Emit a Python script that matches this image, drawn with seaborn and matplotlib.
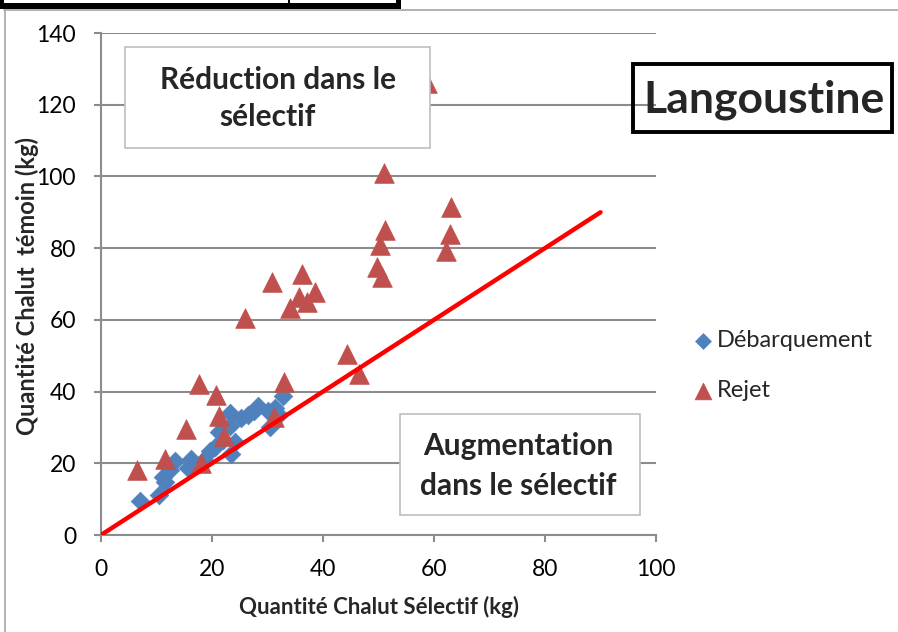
import matplotlib
matplotlib.use("Agg")
import matplotlib.pyplot as plt
import seaborn as sns
import pandas as pd
from matplotlib.patches import Rectangle
from matplotlib.lines import Line2D

# ---- data ----
deb_x = [7.0, 10.4, 11.5, 11.2, 12.4, 13.3, 15.7, 16.3, 18.5, 19.6, 20.5, 21.2, 22.0,
         23.2, 23.2, 23.5, 24.1, 25.3, 26.5, 27.5, 28.3, 30.1, 30.5, 31.4, 32.0, 32.8]
deb_y = [9.5, 11.2, 14.8, 16.3, 18.1, 20.5, 18.8, 21.2, 21.0, 23.5, 24.5, 28.8, 26.5,
         34.0, 30.5, 22.5, 26.0, 32.5, 33.5, 34.5, 36.0, 34.5, 30.0, 35.5, 33.5, 38.8]
rej_x = [6.5, 11.6, 15.4, 17.7, 18.1, 20.8, 21.3, 22.1, 25.9, 30.9, 31.2, 32.9, 34.1, 35.6,
         36.3, 37.1, 38.6, 44.4, 46.4, 49.7, 50.3, 50.7, 51.2, 51.0, 58.7, 62.2, 62.9, 63.1]
rej_y = [18.1, 21.1, 29.5, 42.1, 20.0, 39.0, 33.3, 27.6, 60.4, 70.6, 33.0, 42.8, 63.2, 66.5,
         72.8, 65.1, 67.9, 50.5, 44.9, 74.8, 81.0, 72.0, 85.0, 101.0, 126.0, 79.2, 83.9, 91.5]
ref_x = [0, 90]
ref_y = [0, 90]
x_ticks = [0, 20, 40, 60, 80, 100]
y_ticks = [0, 20, 40, 60, 80, 100, 120, 140]
series_names = ["Débarquement", "Rejet"]

sns.set_theme(style="white")
plt.rcParams["font.family"] = ["Lato", "DejaVu Sans"]

W, H = 898, 632
fig = plt.figure(figsize=(W / 100, H / 100), dpi=100)
ax = fig.add_axes([101 / W, 1 - 535 / H, (656 - 101) / W, (535 - 33) / H])

df_deb = pd.DataFrame({"x": deb_x, "y": deb_y})
df_rej = pd.DataFrame({"x": rej_x, "y": rej_y})

sns.scatterplot(data=df_deb, x="x", y="y", marker="D", s=90, color="#4F81BD",
                edgecolor="#4F81BD", linewidth=0.5, label=series_names[0], ax=ax, zorder=3)
sns.scatterplot(data=df_rej, x="x", y="y", marker="^", s=200, color="#C0504D",
                edgecolor="#C0504D", linewidth=0.5, label=series_names[1], ax=ax, zorder=4)
sns.lineplot(x=ref_x, y=ref_y, color="#FF0000", linewidth=3.2, ax=ax, zorder=5,
             solid_capstyle="round", legend=False)

ax.set_xlim(0, 100)
ax.set_ylim(0, 140)
ax.set_xticks(x_ticks)
ax.set_yticks(y_ticks)
gray = "#8c8c8c"
ax.yaxis.grid(True, color=gray, linewidth=1.5)
ax.xaxis.grid(False)
ax.set_axisbelow(True)
for s in ["top", "right"]:
    ax.spines[s].set_visible(False)
for s in ["left", "bottom"]:
    ax.spines[s].set_color(gray)
    ax.spines[s].set_linewidth(1.5)
ax.tick_params(axis="both", direction="out", length=5, width=1.5, color=gray,
               labelsize=16.5, labelcolor="black")
ax.tick_params(axis="y", pad=13, left=True)
ax.tick_params(axis="x", pad=12, bottom=True)

ax.set_xlabel("Quantité Chalut Sélectif (kg)", fontsize=16, fontweight="bold")
ax.set_ylabel("Quantité Chalut  témoin (kg)", fontsize=17, fontweight="bold")
ax.xaxis.set_label_coords((379 - 101) / 555, (535 - 607) / 502)
ax.xaxis.label.set_va("center")
ax.yaxis.set_label_coords((27 - 101) / 555, (535 - 286) / 502)
ax.yaxis.label.set_va("center")

ax.legend(loc="upper left", bbox_to_anchor=(679 / W, 1 - 321 / H), bbox_transform=fig.transFigure,
          frameon=False, fontsize=17, labelspacing=1.2, handletextpad=0.0, handlelength=1.2,
          borderaxespad=0, markerscale=0.85)


def rect(x0, y0, x1, y1, **kw):
    fig.add_artist(Rectangle((x0 / W, 1 - y1 / H), (x1 - x0) / W, (y1 - y0) / H,
                             transform=fig.transFigure, **kw))


def ftext(x, y, s, **kw):
    fig.text(x / W, 1 - y / H, s, ha="center", va="center", **kw)


def fline(xs, ys, **kw):
    fig.add_artist(Line2D([v / W for v in xs], [1 - v / H for v in ys],
                          transform=fig.transFigure, **kw))


# page decorations (document frame)
rect(0, 0, 401, 8.5, facecolor="black", edgecolor="none", zorder=12)
rect(4, 0, 396, 3, facecolor="white", edgecolor="none", zorder=13)
rect(288, 0, 290, 3, facecolor="black", edgecolor="none", zorder=14)
fline([4, 898], [10, 10], color="#a6a6a6", linewidth=1.2, zorder=11)
fline([4.5, 4.5], [10, 632], color="#a6a6a6", linewidth=1.2, zorder=11)

# annotation boxes
rect(125, 47, 430, 148, facecolor="white", edgecolor="#bfbfbf", linewidth=1.2, zorder=10)
ftext(278, 80, "Réduction dans le", fontsize=21.5, fontweight="bold", zorder=11)
ftext(268, 117, "sélectif", fontsize=21.5, fontweight="bold", zorder=11)

rect(400, 414, 640, 515, facecolor="white", edgecolor="#bfbfbf", linewidth=1.2, zorder=10)
ftext(518, 446, "Augmentation", fontsize=21.5, fontweight="bold", zorder=11)
ftext(518, 486, "dans le sélectif", fontsize=21.5, fontweight="bold", zorder=11)

rect(633, 64, 892, 132, facecolor="none", edgecolor="black", linewidth=2.8, zorder=10)
ftext(764, 100, "Langoustine", fontsize=32, fontweight="bold", zorder=11)

fig.savefig("out.png", dpi=100)
